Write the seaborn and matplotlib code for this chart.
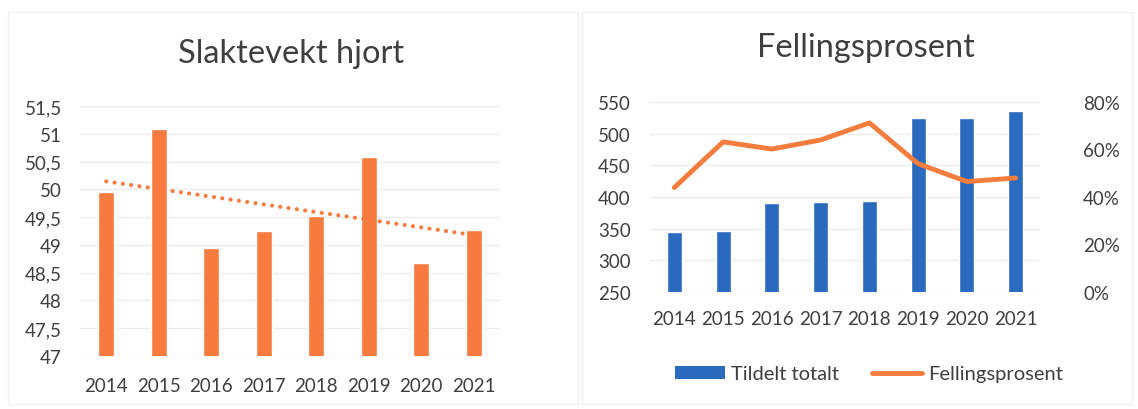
import numpy as np
import pandas as pd
import seaborn as sns
import matplotlib.pyplot as plt
from matplotlib.ticker import FuncFormatter, PercentFormatter
from matplotlib.lines import Line2D
from matplotlib.patches import Patch, Rectangle

years = ["2014", "2015", "2016", "2017", "2018", "2019", "2020", "2021"]
slaktevekt = [49.95, 51.08, 48.95, 49.25, 49.52, 50.58, 48.68, 49.27]
tildelt = [345, 347, 390, 392, 394, 525, 525, 536]
fellingsprosent = [44.0, 63.2, 60.2, 64.0, 71.2, 54.0, 46.5, 48.0]

orange = "#F77A3E"
line_orange = "#F47C3C"
blue = "#2A6BC0"
text_col = "#3f3f3f"
grid_col = "#ececec"

sns.set_theme(style="white")
plt.rcParams["font.family"] = ["Lato", "DejaVu Sans"]
plt.rcParams["text.color"] = text_col
plt.rcParams["xtick.color"] = text_col
plt.rcParams["ytick.color"] = text_col

fig = plt.figure(figsize=(11.38, 4.1), dpi=100)

# faint panel borders, like the scanned chart areas
fig.add_artist(Rectangle((8 / 1138, 5 / 410), 570 / 1138, 392 / 410, transform=fig.transFigure,
                         fill=False, edgecolor="#f0f0f0", lw=1))
fig.add_artist(Rectangle((582 / 1138, 5 / 410), 550 / 1138, 392 / 410, transform=fig.transFigure,
                         fill=False, edgecolor="#f0f0f0", lw=1))

# ---- left chart: Slaktevekt hjort
df1 = pd.DataFrame({"year": years, "vekt": slaktevekt})
ax1 = fig.add_axes([80 / 1138, 1 - 357 / 410, 420 / 1138, 250 / 410])
sns.barplot(data=df1, x="year", y="vekt", color=orange, width=0.31, saturation=1, ax=ax1)
pos = np.arange(len(years))
# linear trendline
sns.regplot(x=pos, y=np.array(slaktevekt), scatter=False, ci=None, truncate=True, ax=ax1,
            line_kws=dict(color=orange, lw=3, linestyle=(0, (0.01, 2.0)), dash_capstyle="round"))
ax1.set_ylim(47, 51.5)
ax1.set_xlim(-0.5, 7.5)
ax1.set_yticks(np.arange(47, 51.51, 0.5))
ax1.yaxis.set_major_formatter(FuncFormatter(lambda v, p: f"{v:g}".replace(".", ",")))
ax1.yaxis.grid(True, color=grid_col, lw=1)
ax1.set_axisbelow(True)
ax1.set_xlabel("")
ax1.set_ylabel("")
sns.despine(ax=ax1, left=True, bottom=True)
ax1.tick_params(axis="both", length=0, labelsize=13.5)
ax1.tick_params(axis="x", pad=15)
ax1.tick_params(axis="y", pad=13)
fig.text(291 / 1138, 1 - 54 / 410, "Slaktevekt hjort", ha="center", va="center", fontsize=23.5)

# ---- right chart: Fellingsprosent
df2 = pd.DataFrame({"year": years, "tildelt": tildelt, "pst": fellingsprosent})
ax2 = fig.add_axes([650 / 1138, 1 - 293 / 410, 390 / 1138, 190 / 410])
sns.barplot(data=df2, x="year", y="tildelt", color=blue, width=0.31, saturation=1, ax=ax2)
ax2.set_ylim(250, 550)
ax2.set_xlim(-0.5, 7.5)
ax2.set_yticks(np.arange(250, 551, 50))
ax2.yaxis.grid(True, color=grid_col, lw=1)
ax2.set_axisbelow(True)
ax2.set_xlabel("")
ax2.set_ylabel("")
sns.despine(ax=ax2, left=True, bottom=True)
ax2.tick_params(axis="both", length=0, labelsize=13.5)
ax2.tick_params(axis="x", pad=13)
ax2.tick_params(axis="y", pad=14)

ax3 = ax2.twinx()
sns.lineplot(x=pos, y=df2["pst"], color=line_orange, lw=3.5, ax=ax3)
ax3.set_ylim(0, 80)
ax3.set_yticks(np.arange(0, 81, 20))
ax3.yaxis.set_major_formatter(PercentFormatter(decimals=0))
ax3.set_ylabel("")
sns.despine(ax=ax3, left=True, bottom=True, right=True)
ax3.tick_params(axis="y", length=0, labelsize=13.5, pad=31)
fig.text(866 / 1138, 1 - 48 / 410, "Fellingsprosent", ha="center", va="center", fontsize=23.5)

handles = [Patch(facecolor=blue, edgecolor="none"),
           Line2D([0], [0], color=line_orange, lw=3.5)]
fig.legend(handles, ["Tildelt totalt", "Fellingsprosent"], loc="center",
           bbox_to_anchor=(869 / 1138, 1 - 375 / 410), ncol=2, frameon=False,
           fontsize=14.5, handlelength=2.5, handleheight=0.6, columnspacing=1.6, handletextpad=0.3)

fig.savefig("out.png", dpi=100, facecolor="white")
